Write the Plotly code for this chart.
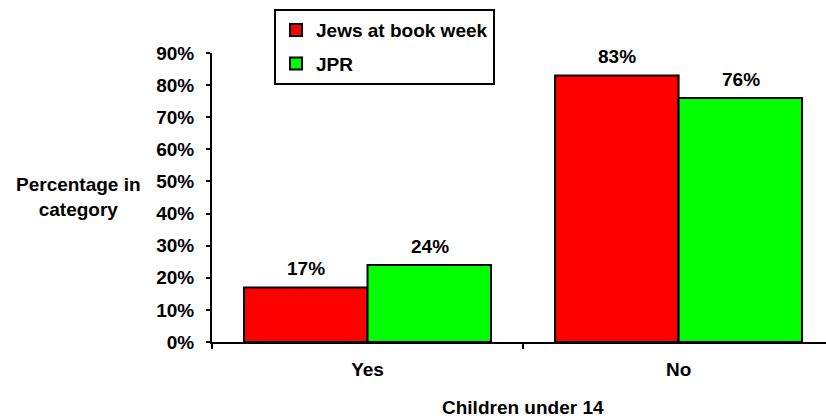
import plotly.graph_objects as go

categories = ["Yes", "No"]
series_names = ["Jews at book week", "JPR"]
book_week = [17, 83]
jpr = [24, 76]
y_ticks = [0, 10, 20, 30, 40, 50, 60, 70, 80, 90]
y_tick_labels = [f"{v}%" for v in y_ticks]

colors = ["#ff0000", "#00ff00"]
FONT = "Liberation Sans, Arial, sans-serif"
FS = 19
bold = dict(family=FONT, size=FS, color="black", weight="bold")

fig = go.Figure()
for i, (name, vals) in enumerate(zip(series_names, [book_week, jpr])):
    fig.add_trace(go.Bar(
        x=categories, y=vals, name=name, legendgroup=f"g{i}",
        marker=dict(color=colors[i], line=dict(color="black", width=2)),
    ))

# data labels above bars
offsets = [-62, 62]
for i, vals in enumerate([book_week, jpr]):
    for c, v in zip(categories, vals):
        fig.add_annotation(
            x=c, y=v, text=f"{v}%", showarrow=False, xshift=offsets[i],
            yanchor="bottom", yshift=6, font=bold,
        )

fig.add_annotation(
    xref="paper", yref="paper", x=-0.218, y=0.502,
    text="Percentage in<br>category", showarrow=False,
    xanchor="center", yanchor="middle", align="center", font=bold,
)
fig.add_annotation(
    xref="paper", yref="paper", x=0.5065, y=-0.225,
    text="Children under 14", showarrow=False,
    xanchor="center", yanchor="middle", font=bold,
)

fig.update_layout(
    width=826, height=420,
    margin=dict(l=212, r=0, t=53, b=78),
    paper_bgcolor="white", plot_bgcolor="white",
    barmode="group", bargap=0.206, bargroupgap=0,
    font=bold,
    legend=dict(
        x=0.101, y=1.152, xanchor="left", yanchor="top",
        bordercolor="black", borderwidth=2, bgcolor="white",
        tracegroupgap=6, itemwidth=30, font=bold,
    ),
    xaxis=dict(
        range=[-0.5, 1.474], showline=True, linecolor="black", linewidth=2,
        ticks="outside", ticklen=5, tickwidth=2, tickcolor="black",
        tickson="boundaries", showgrid=False, ticklabelstandoff=9,
        tickfont=bold,
    ),
    yaxis=dict(
        range=[0, 90], tickvals=y_ticks, ticktext=y_tick_labels,
        showline=True, linecolor="black", linewidth=2,
        ticks="outside", ticklen=4, tickwidth=2, tickcolor="black",
        showgrid=False, zeroline=False, ticklabelstandoff=8,
        tickfont=bold,
    ),
    # inner halves of the crossing tick marks
    xaxis2=dict(
        overlaying="x", anchor="y", range=[-0.5, 1.474], tickvals=[0.5],
        ticks="inside", ticklen=5, tickwidth=2, tickcolor="black",
        showticklabels=False, showgrid=False, zeroline=False, showline=False,
    ),
    yaxis2=dict(
        overlaying="y", anchor="x", range=[0, 90], tickvals=y_ticks,
        ticks="inside", ticklen=4, tickwidth=2, tickcolor="black",
        showticklabels=False, showgrid=False, zeroline=False, showline=False,
    ),
)

fig.write_html("out.html")
